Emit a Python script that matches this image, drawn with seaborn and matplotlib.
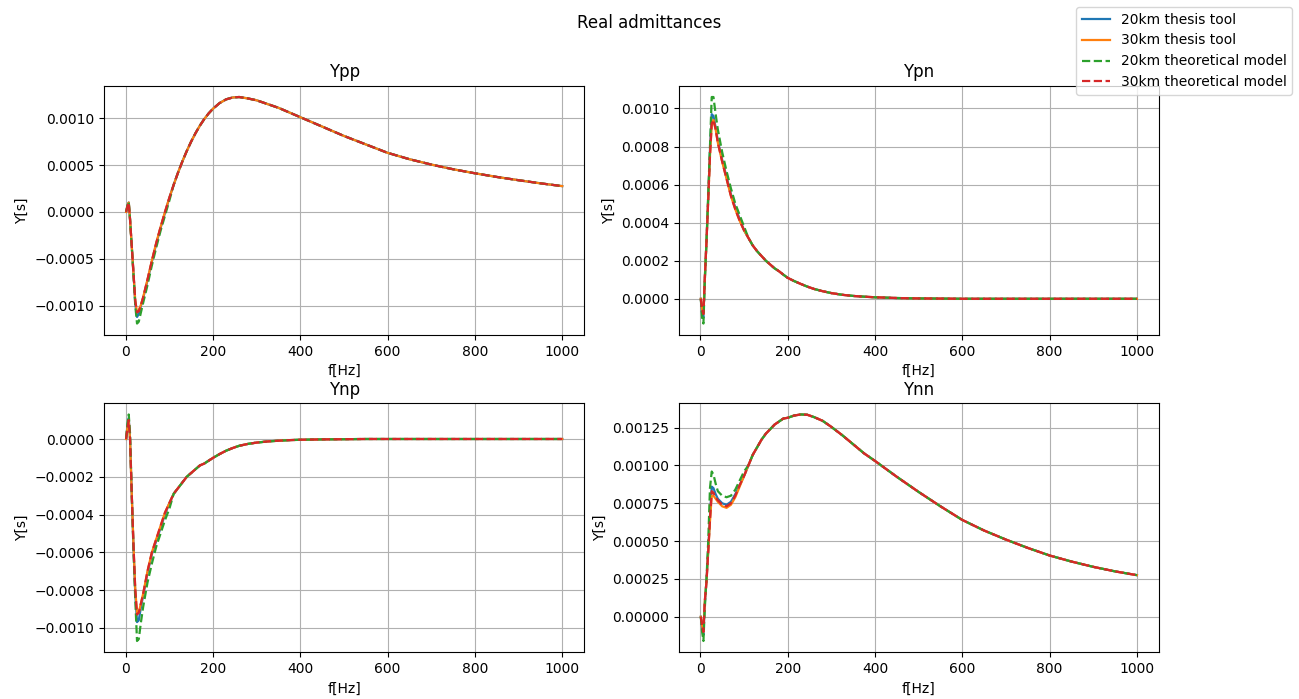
import numpy as np
import pandas as pd
import matplotlib
matplotlib.use('Agg')
import matplotlib.pyplot as plt
import seaborn as sns

# frequency grid [Hz]: dense part near the resonance, then the common tail
f_low = [1, 4, 7, 10, 14, 18, 22, 26, 30, 35, 40, 50, 60, 70, 80, 90, 100]
f_high = [110, 120, 130, 140, 150, 160, 170, 180, 190, 200, 215, 230, 245, 260, 280, 300, 325, 350,
          375, 400, 450, 500, 550, 600, 650, 700, 750, 800, 850, 900, 950, 1000]

# Ypp
ypp_20_tool = [0.0, 0.00006, 0.0001, -0.00008, -0.00037, -0.00066, -0.00098, -0.00112, -0.00109, -0.00100,
               -0.00092, -0.00073, -0.00053, -0.00034, -0.00017, -0.00001, 0.00015]
ypp_30_tool = [0.0, 0.00006, 0.0001, -0.00008, -0.00037, -0.00066, -0.00095, -0.00107, -0.00105, -0.00099,
               -0.00091, -0.00072, -0.00052, -0.00033, -0.00016, 0.0, 0.00015]
ypp_20_theo = [0.0, 0.00007, 0.00011, -0.00008, -0.00038, -0.00068, -0.00100, -0.00119, -0.00117, -0.00107,
               -0.00097, -0.00078, -0.00057, -0.00038, -0.0002, -0.00004, 0.00012]
ypp_30_theo = [0.0, 0.00006, 0.0001, -0.00008, -0.00037, -0.00066, -0.00095, -0.00107, -0.00106, -0.00099,
               -0.00091, -0.00072, -0.00052, -0.00033, -0.00016, 0.0, 0.00015]
ypp_tail = [0.00029, 0.00042, 0.00054, 0.00065, 0.00075, 0.00084, 0.00092, 0.00099, 0.00105, 0.0011,
            0.00116, 0.0012, 0.00122, 0.001225, 0.00121, 0.00119, 0.00115, 0.00111, 0.00106, 0.00101,
            0.00091, 0.00081, 0.00072, 0.00063, 0.000562, 0.000505, 0.000455, 0.000412, 0.000373, 0.000338,
            0.000305, 0.000275]

# Ypn
ypn_20_tool = [0.0, -0.00008, -0.0001, 0.0001, 0.0003, 0.00053, 0.00078, 0.00097, 0.00096, 0.0009,
               0.00083, 0.00073, 0.00064, 0.00055, 0.00048, 0.00042, 0.00036]
ypn_30_tool = [0.0, -0.00006, -0.00008, 0.0001, 0.0003, 0.00052, 0.00075, 0.00091, 0.00094, 0.00089,
               0.00082, 0.00072, 0.00063, 0.00054, 0.00047, 0.00041, 0.00036]
ypn_20_theo = [0.0, -0.0001, -0.00013, 0.00008, 0.0003, 0.00055, 0.0008, 0.00106, 0.00106, 0.00097,
               0.00089, 0.00077, 0.00067, 0.00058, 0.0005, 0.00044, 0.00038]
ypn_30_theo = [0.0, -0.00006, -0.00008, 0.0001, 0.0003, 0.00052, 0.00075, 0.00092, 0.00094, 0.00089,
               0.00082, 0.00072, 0.00063, 0.00054, 0.00047, 0.00041, 0.00036]
ypn_tail = [0.00032, 0.00028, 0.00025, 0.000225, 0.0002, 0.00018, 0.00016, 0.000145, 0.000127, 0.00011,
            0.000093, 0.000078, 0.000064, 0.000052, 0.00004, 0.00003, 0.000021, 0.000015, 0.000011, 0.000008,
            0.000004, 0.000002, 0.000001, 0.0, 0.0, 0.0, 0.0, 0.0, 0.0, 0.0, 0.0, 0.0]

# Ynp
ynp_20_tool = [0.0, 0.00007, 0.00011, 0.0, -0.0003, -0.00058, -0.00082, -0.00097, -0.00096, -0.00089,
               -0.00083, -0.00071, -0.00061, -0.00054, -0.00047, -0.0004, -0.00034]
ynp_30_tool = [0.0, 0.00006, 0.0001, 0.0, -0.0003, -0.00057, -0.0008, -0.00092, -0.00092, -0.00087,
               -0.00082, -0.0007, -0.0006, -0.00053, -0.00046, -0.00039, -0.00034]
ynp_20_theo = [0.0, 0.00008, 0.00013, 0.00003, -0.0003, -0.0006, -0.00085, -0.00107, -0.00106, -0.00097,
               -0.00089, -0.00076, -0.00066, -0.00057, -0.0005, -0.00043, -0.00037]
ynp_30_theo = [0.0, 0.00006, 0.0001, 0.0, -0.0003, -0.00057, -0.0008, -0.00093, -0.00092, -0.00087,
               -0.00082, -0.0007, -0.0006, -0.00053, -0.00046, -0.00039, -0.00034]
ynp_tail = [-0.00029, -0.00026, -0.00023, -0.0002, -0.00018, -0.00016, -0.00014, -0.00013, -0.000115, -0.0001,
            -0.00008, -0.000062, -0.000048, -0.000036, -0.000026, -0.000019, -0.000013, -0.000009, -0.000006,
            -0.000004, -0.000002, -0.000001, 0.0, 0.0, 0.0, 0.0, 0.0, 0.0, 0.0, 0.0, 0.0, 0.0]

# Ynn
ynn_20_tool = [0.0, -0.00008, -0.00012, 0.00008, 0.00024, 0.00044, 0.00066, 0.00086, 0.00085, 0.00081,
               0.00078, 0.00075, 0.00074, 0.00076, 0.00081, 0.00087, 0.00093]
ynn_30_tool = [0.0, -0.00006, -0.0001, 0.0001, 0.00023, 0.00043, 0.00063, 0.0008, 0.0008, 0.00078,
               0.00076, 0.00073, 0.00072, 0.00074, 0.00079, 0.00086, 0.00093]
ynn_20_theo = [0.0, -0.0001, -0.00016, 0.00005, 0.00025, 0.0005, 0.00085, 0.00096, 0.00094, 0.00088,
               0.00083, 0.0008, 0.00079, 0.0008, 0.00084, 0.0009, 0.00096]
ynn_30_theo = [0.0, -0.00006, -0.0001, 0.0001, 0.00023, 0.00043, 0.00064, 0.00083, 0.00082, 0.00079,
               0.00077, 0.00074, 0.00073, 0.00075, 0.0008, 0.00087, 0.00093]
ynn_tail = [0.001, 0.00107, 0.00112, 0.00117, 0.00121, 0.00124, 0.00127, 0.00129, 0.00131, 0.001315,
            0.00133, 0.001337, 0.001335, 0.00132, 0.001295, 0.001255, 0.0012, 0.00114, 0.00108, 0.00103,
            0.000925, 0.000825, 0.00073, 0.00064, 0.00057, 0.00051, 0.000455, 0.000405, 0.000365, 0.00033,
            0.0003, 0.000275]

labels = ['20km thesis tool', '30km thesis tool', '20km theoretical model', '30km theoretical model']
colors = ['C0', 'C1', 'C2', 'C3']
styles = ['-', '-', '--', '--']

panels = [
    ('Ypp', [ypp_20_tool, ypp_30_tool, ypp_20_theo, ypp_30_theo], ypp_tail),
    ('Ypn', [ypn_20_tool, ypn_30_tool, ypn_20_theo, ypn_30_theo], ypn_tail),
    ('Ynp', [ynp_20_tool, ynp_30_tool, ynp_20_theo, ynp_30_theo], ynp_tail),
    ('Ynn', [ynn_20_tool, ynn_30_tool, ynn_20_theo, ynn_30_theo], ynn_tail),
]

freq = np.array(f_low + f_high)

fig, axes = plt.subplots(2, 2, figsize=(12.99, 6.99), dpi=100)
fig.subplots_adjust(left=0.0803, right=0.892, top=0.8774, bottom=0.0668, wspace=0.198, hspace=0.274)

for ax, (name, series, tail) in zip(axes.flat, panels):
    for vals, lab, col, ls in zip(series, labels, colors, styles):
        df = pd.DataFrame({'f': freq, 'Y': list(vals) + list(tail)})
        sns.lineplot(data=df, x='f', y='Y', ax=ax, color=col, linestyle=ls,
                     linewidth=1.6, label=lab, legend=False)
    ax.set_title(name, fontsize=12)
    ax.set_xlabel('f[Hz]')
    ax.set_ylabel('Y[s]')
    ax.grid(True)

handles, labs = axes[0, 0].get_legend_handles_labels()
fig.legend(handles, labs, loc='upper right')
fig.suptitle('Real admittances', fontsize=12)

fig.savefig('out.png', dpi=100)
